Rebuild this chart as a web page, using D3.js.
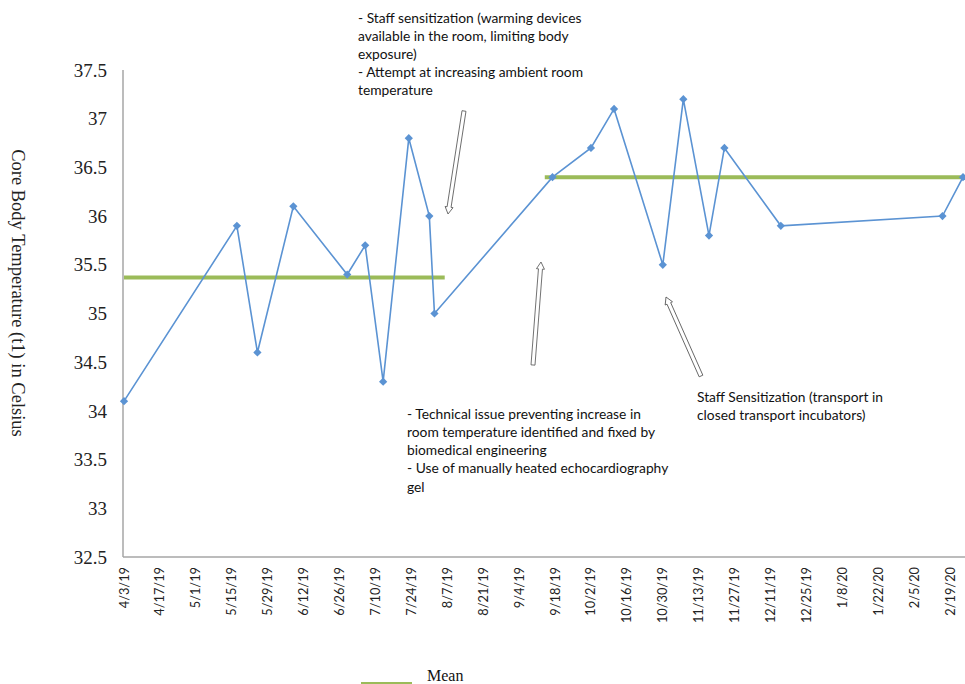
<!DOCTYPE html>
<html>
<head>
<meta charset="utf-8">
<script src="https://cdn.jsdelivr.net/npm/d3@7"></script>
<style>
  body { margin: 0; background: #fff; }
  svg { display: block; }
</style>
</head>
<body>
<div id="chart"></div>
<script>
'use strict'

// measurement dates and core body temperatures
const dates = ["2019-04-03", "2019-05-17", "2019-05-25", "2019-06-08", "2019-06-29",
    "2019-07-06", "2019-07-13", "2019-07-23", "2019-07-31", "2019-08-02",
    "2019-09-17", "2019-10-02", "2019-10-11", "2019-10-30", "2019-11-07",
    "2019-11-17", "2019-11-23", "2019-12-15", "2020-02-16", "2020-02-24"];
const temps = [34.1, 35.9, 34.6, 36.1, 35.4, 35.7, 34.3, 36.8, 36.0, 35.0,
    36.4, 36.7, 37.1, 35.5, 37.2, 35.8, 36.7, 35.9, 36.0, 36.4];

// mean lines for the two phases
const meanStarts = ["2019-04-03", "2019-09-14"];
const meanEnds = ["2019-08-06", "2020-02-26"];
const meanValues = [35.37, 36.4];

// axis ticks
const xTickLabels = ["4/3/19", "4/17/19", "5/1/19", "5/15/19", "5/29/19", "6/12/19",
    "6/26/19", "7/10/19", "7/24/19", "8/7/19", "8/21/19", "9/4/19", "9/18/19",
    "10/2/19", "10/16/19", "10/30/19", "11/13/19", "11/27/19", "12/11/19",
    "12/25/19", "1/8/20", "1/22/20", "2/5/20", "2/19/20"];
const yTicks = [32.5, 33, 33.5, 34, 34.5, 35, 35.5, 36, 36.5, 37, 37.5];

const note1 = ["- Staff sensitization (warming devices", "available in the room, limiting body",
    "exposure)", "- Attempt at increasing ambient room", "temperature"];
const note2 = ["- Technical issue preventing increase in",
    "room temperature identified and fixed by", "biomedical engineering",
    "- Use of manually heated echocardiography", "gel"];
const note3 = ["Staff Sensitization (transport in", "closed transport incubators)"];

const W = 965, H = 684;
const sans = "Lato, 'Open Sans', sans-serif";
const serif = "'Liberation Serif', 'DejaVu Serif', serif";
const blue = "#5b93d3";
const green = "#9bbb59";
const axisCol = "#a6a6a6";

const parse = d3.timeParse("%Y-%m-%d");
const parseTick = d3.timeParse("%m/%d/%y");

const svg = d3.select("#chart").append("svg")
    .attr("width", W)
    .attr("height", H);

const x = d3.scaleTime()
    .domain([parse("2019-04-03"), parse("2020-02-24")])
    .range([124, 963]);

const y = d3.scaleLinear()
    .domain([32.5, 37.5])
    .range([557, 70]);

// axes lines
svg.append("line")
    .attr("x1", 123).attr("x2", W)
    .attr("y1", y(32.5)).attr("y2", y(32.5))
    .attr("stroke", axisCol).attr("stroke-width", 1.5);
svg.append("line")
    .attr("x1", 123).attr("x2", 123)
    .attr("y1", y(37.5)).attr("y2", y(32.5))
    .attr("stroke", axisCol).attr("stroke-width", 1.5);

// y tick labels
svg.append("g").selectAll("text")
    .data(yTicks)
    .enter()
    .append("text")
    .attr("x", 107)
    .attr("y", d => y(d))
    .attr("dy", "0.35em")
    .attr("text-anchor", "end")
    .style("font-family", serif)
    .style("font-size", "19px")
    .attr("fill", "#222")
    .text(d => d);

// x tick labels (rotated)
svg.append("g").selectAll("text")
    .data(xTickLabels)
    .enter()
    .append("text")
    .attr("transform", d => `translate(${x(parseTick(d)) + 4.5}, 567) rotate(-90)`)
    .attr("text-anchor", "end")
    .style("font-family", sans)
    .style("font-size", "12.8px")
    .attr("fill", "#222")
    .text(d => d);

// y axis title
svg.append("text")
    .attr("transform", "translate(12, 293) rotate(90)")
    .attr("text-anchor", "middle")
    .style("font-family", serif)
    .style("font-size", "18.5px")
    .attr("fill", "#222")
    .text("Core Body Temperature (t1) in Celsius");

// mean lines
svg.append("g").selectAll("line")
    .data(meanValues)
    .enter()
    .append("line")
    .attr("x1", (d, i) => x(parse(meanStarts[i])))
    .attr("x2", (d, i) => x(parse(meanEnds[i])))
    .attr("y1", d => y(d))
    .attr("y2", d => y(d))
    .attr("stroke", green)
    .attr("stroke-width", 4);

// temperature series
const points = dates.map((d, i) => ({ date: parse(d), value: temps[i] }));

const line = d3.line()
    .x(d => x(d.date))
    .y(d => y(d.value));

svg.append("path")
    .datum(points)
    .attr("d", line)
    .attr("fill", "none")
    .attr("stroke", blue)
    .attr("stroke-width", 1.6);

const marker = d3.symbol().type(d3.symbolSquare).size(34);
svg.append("g").selectAll("path")
    .data(points)
    .enter()
    .append("path")
    .attr("d", marker)
    .attr("transform", d => `translate(${x(d.date)}, ${y(d.value)}) rotate(45)`)
    .attr("fill", blue);

// annotations
function addNote(lines, x0, y0, gap) {
    svg.append("g").selectAll("text")
        .data(lines)
        .enter()
        .append("text")
        .attr("x", x0)
        .attr("y", (d, i) => y0 + i * gap)
        .attr("dy", "0.35em")
        .style("font-family", sans)
        .style("font-size", "13.8px")
        .attr("fill", "#111")
        .text(d => d);
}
addNote(note1, 358, 18, 18);
addNote(note2, 407, 414, 18.2);
addNote(note3, 697, 397, 18);

// hollow block arrows
function arrow(x1, y1, x2, y2) {
    const len = Math.hypot(x2 - x1, y2 - y1);
    const ang = Math.atan2(y2 - y1, x2 - x1) * 180 / Math.PI;
    const sw = 2, hw = 4, hl = 7;
    const pts = [[0, -sw], [len - hl, -sw], [len - hl, -hw], [len, 0],
        [len - hl, hw], [len - hl, sw], [0, sw]];
    svg.append("path")
        .attr("d", d3.line()(pts) + "Z")
        .attr("transform", `translate(${x1}, ${y1}) rotate(${ang})`)
        .attr("fill", "#fff")
        .attr("stroke", "#555")
        .attr("stroke-width", 0.8);
}
arrow(464, 111, 448, 214);
arrow(533, 365, 541, 262);
arrow(701, 376, 666, 297);

// legend
svg.append("line")
    .attr("x1", 361).attr("x2", 412)
    .attr("y1", 684).attr("y2", 684)
    .attr("stroke", green).attr("stroke-width", 4);
svg.append("text")
    .attr("x", 427)
    .attr("y", 675)
    .attr("dy", "0.35em")
    .style("font-family", serif)
    .style("font-size", "16px")
    .attr("fill", "#111")
    .text("Mean");
</script>
</body>
</html>
